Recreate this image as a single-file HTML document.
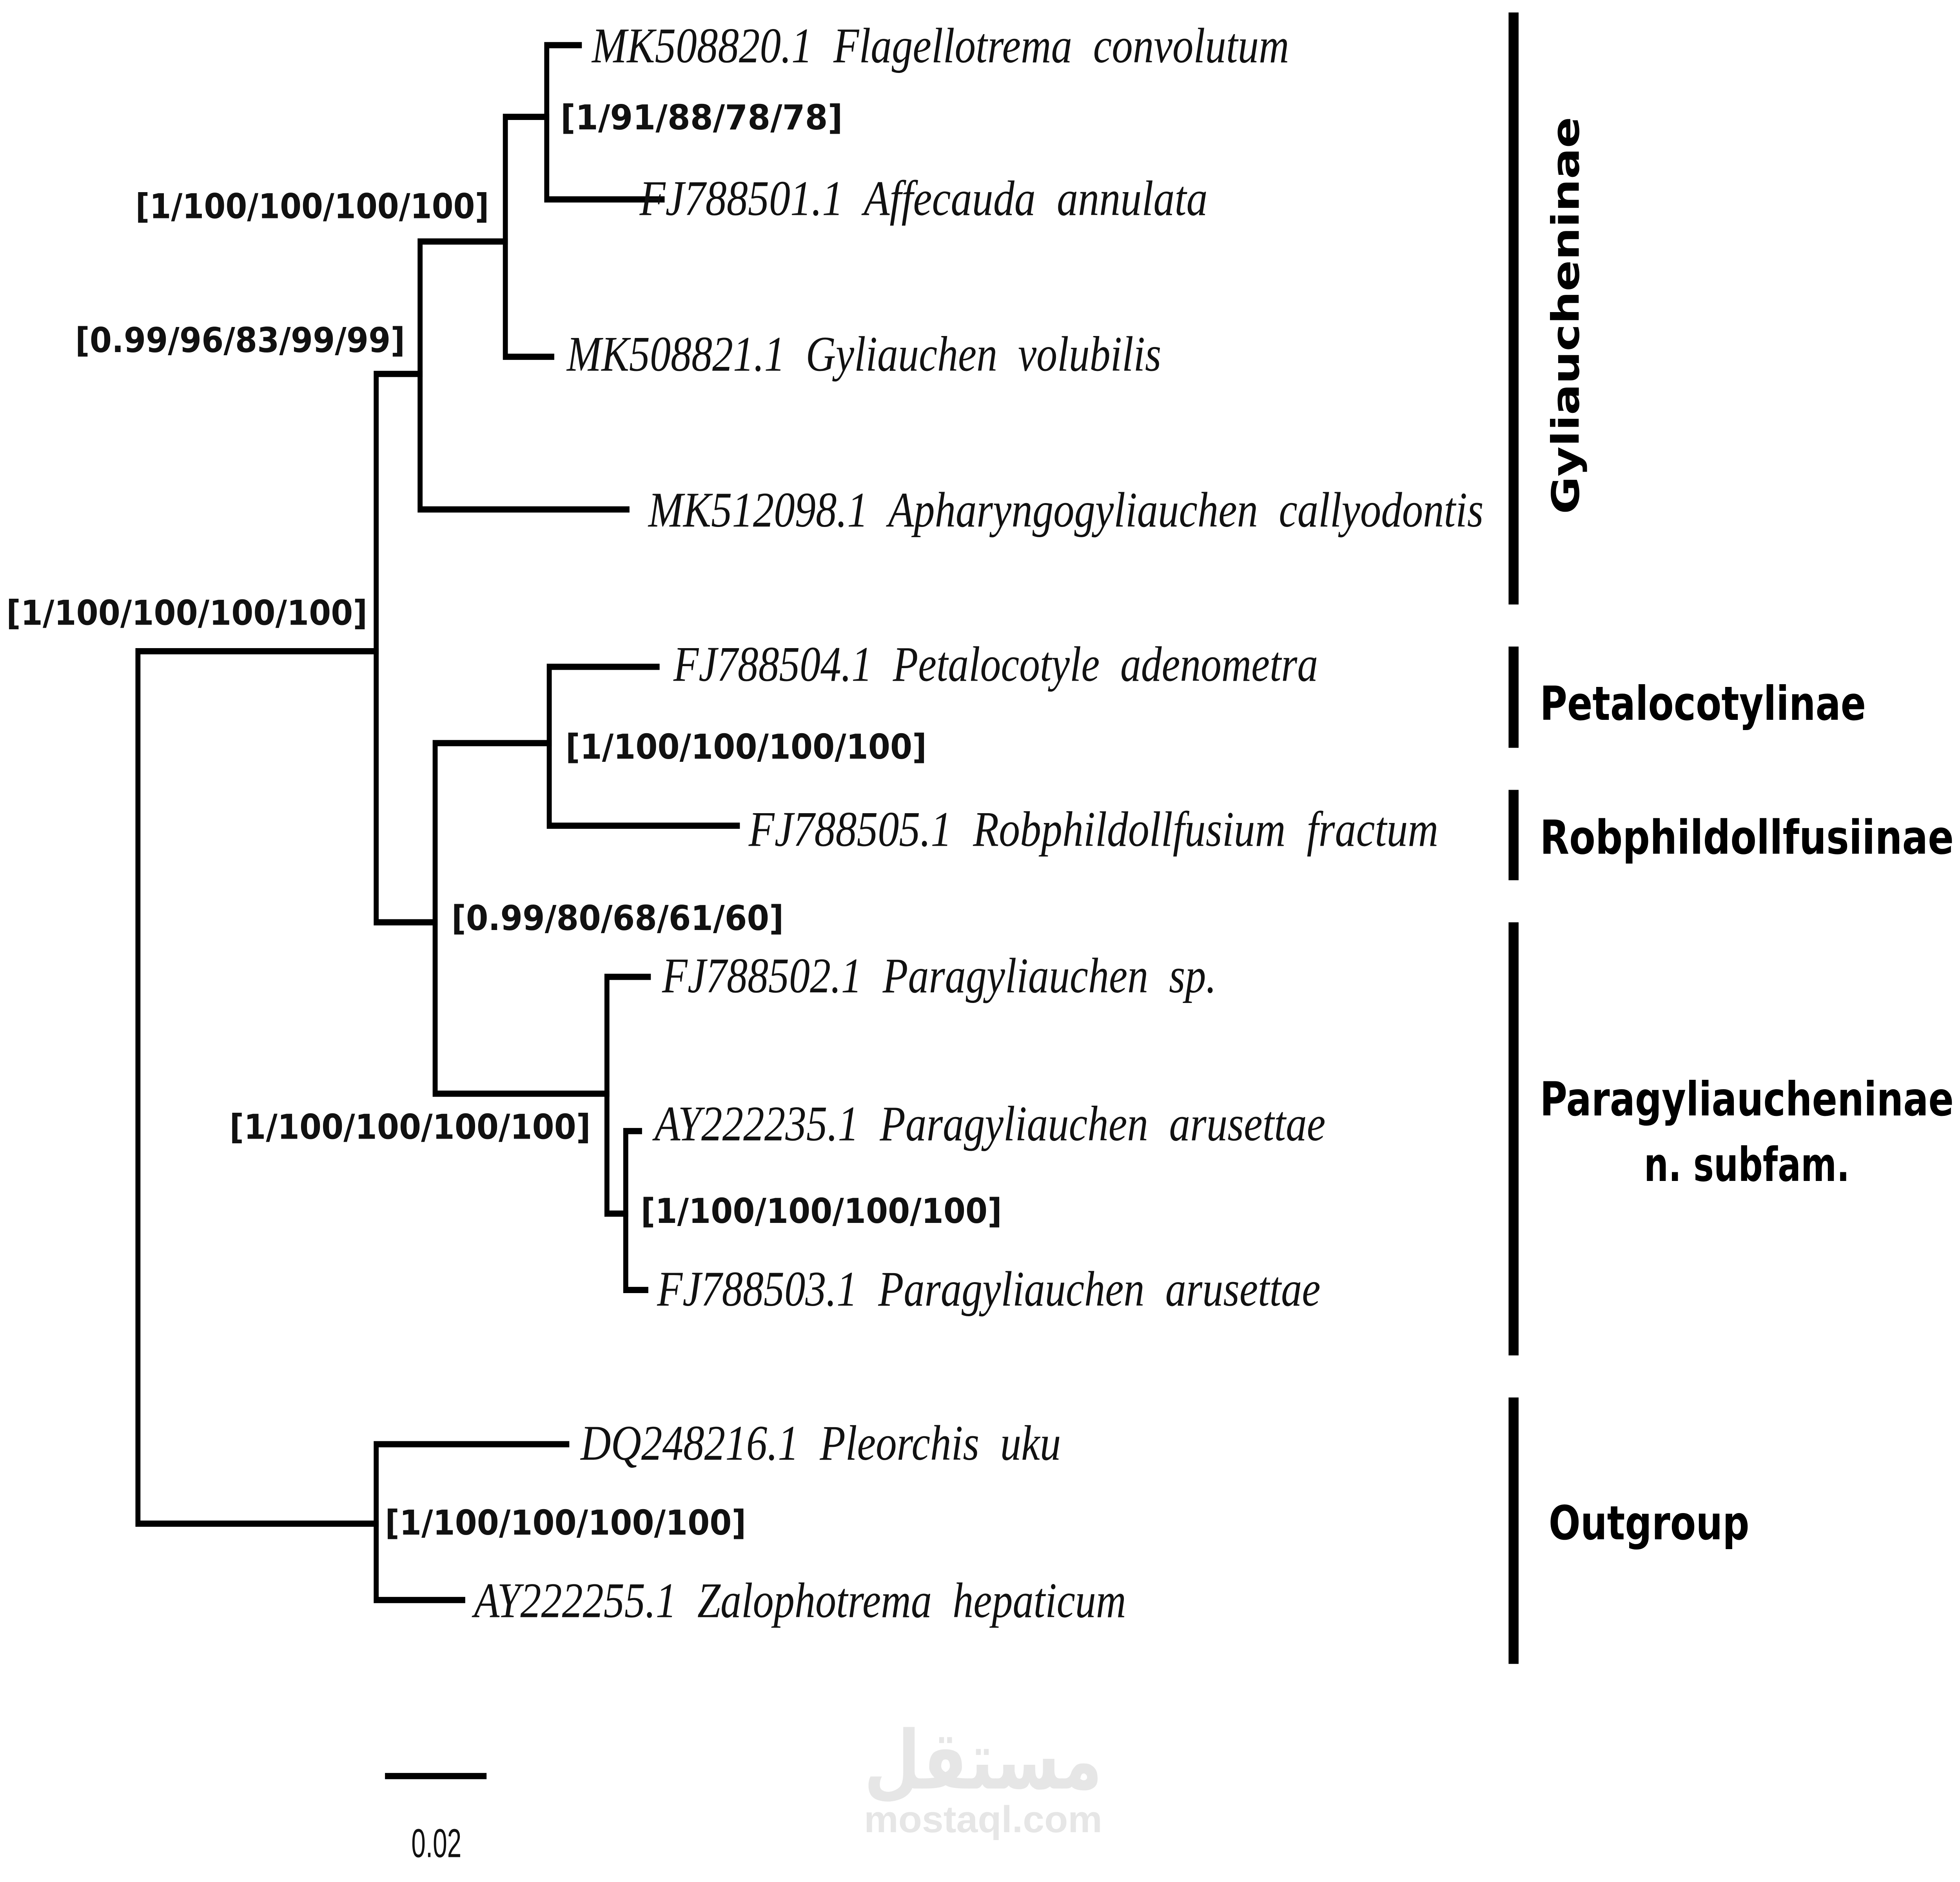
<!DOCTYPE html>
<html><head><meta charset="utf-8"><meta name="viewport" content="width=6224">
<style>
html,body{margin:0;padding:0;background:#fff;overflow:hidden;width:100vw;height:100vh;}
svg{display:block;position:absolute;left:0;top:0;width:100vw;height:100vh;}
.t{font-family:"Liberation Serif",serif;font-style:italic;font-size:32px;fill:#111;white-space:pre;}
.b{font-family:"DejaVu Sans","Liberation Sans",sans-serif;font-weight:bold;font-size:22px;fill:#111;}
.g{font-family:"DejaVu Sans","Liberation Sans",sans-serif;font-weight:bold;font-size:30px;fill:#000;}
</style></head><body>
<svg viewBox="0 0 1563 1208" preserveAspectRatio="none" xmlns="http://www.w3.org/2000/svg">
<g stroke="#000" stroke-width="4" fill="none" stroke-linecap="square">
<path d="M110 418V978M110 418H300M110 978H300"/>
<path d="M300 240V592M300 240H335M300 592H347"/>
<path d="M335 155V327M335 155H403M335 327H500"/>
<path d="M403 75V229M403 75H436M403 229H440"/>
<path d="M436 29V128M436 29H462M436 128H528"/>
<path d="M347 477V702M347 477H438M347 702H484"/>
<path d="M438 428V530M438 428H524M438 530H588"/>
<path d="M484 627V779M484 627H517M484 779H499"/>
<path d="M499 726V828M499 726H510M499 828H515"/>
<path d="M300 927V1027M300 927H452M300 1027H369"/>
<path d="M309 1140H386"/>
</g>
<g fill="#000">
<rect x="1203" y="8" width="8" height="380"/>
<rect x="1203" y="415" width="8" height="65"/>
<rect x="1203" y="507" width="8" height="58"/>
<rect x="1203" y="592" width="8" height="278"/>
<rect x="1203" y="897" width="8" height="171"/>
</g>
<text class="t" x="472" y="40" textLength="556" lengthAdjust="spacingAndGlyphs">MK508820.1  Flagellotrema  convolutum</text>
<text class="t" x="510" y="138" textLength="453" lengthAdjust="spacingAndGlyphs">FJ788501.1  Affecauda  annulata</text>
<text class="t" x="452" y="238" textLength="474" lengthAdjust="spacingAndGlyphs">MK508821.1  Gyliauchen  volubilis</text>
<text class="t" x="517" y="338" textLength="666" lengthAdjust="spacingAndGlyphs">MK512098.1  Apharyngogyliauchen  callyodontis</text>
<text class="t" x="537" y="437" textLength="514" lengthAdjust="spacingAndGlyphs">FJ788504.1  Petalocotyle  adenometra</text>
<text class="t" x="597" y="543" textLength="550" lengthAdjust="spacingAndGlyphs">FJ788505.1  Robphildollfusium  fractum</text>
<text class="t" x="528" y="637" textLength="442" lengthAdjust="spacingAndGlyphs">FJ788502.1  Paragyliauchen  sp.</text>
<text class="t" x="522" y="732" textLength="535" lengthAdjust="spacingAndGlyphs">AY222235.1  Paragyliauchen  arusettae</text>
<text class="t" x="524" y="838" textLength="529" lengthAdjust="spacingAndGlyphs">FJ788503.1  Paragyliauchen  arusettae</text>
<text class="t" x="463" y="937" textLength="383" lengthAdjust="spacingAndGlyphs">DQ248216.1  Pleorchis  uku</text>
<text class="t" x="378" y="1038" textLength="520" lengthAdjust="spacingAndGlyphs">AY222255.1  Zalophotrema  hepaticum</text>

<text class="b" x="447" y="83" textLength="225" lengthAdjust="spacingAndGlyphs">[1/91/88/78/78]</text>
<text class="b" x="108" y="140" textLength="282" lengthAdjust="spacingAndGlyphs">[1/100/100/100/100]</text>
<text class="b" x="60" y="226" textLength="263" lengthAdjust="spacingAndGlyphs">[0.99/96/83/99/99]</text>
<text class="b" x="5" y="401" textLength="288" lengthAdjust="spacingAndGlyphs">[1/100/100/100/100]</text>
<text class="b" x="451" y="487" textLength="288" lengthAdjust="spacingAndGlyphs">[1/100/100/100/100]</text>
<text class="b" x="360" y="597" textLength="265" lengthAdjust="spacingAndGlyphs">[0.99/80/68/61/60]</text>
<text class="b" x="183" y="731" textLength="288" lengthAdjust="spacingAndGlyphs">[1/100/100/100/100]</text>
<text class="b" x="511" y="785" textLength="288" lengthAdjust="spacingAndGlyphs">[1/100/100/100/100]</text>
<text class="b" x="307" y="985" textLength="288" lengthAdjust="spacingAndGlyphs">[1/100/100/100/100]</text>

<text class="g" transform="translate(1259 330) rotate(-90)" textLength="255" lengthAdjust="spacingAndGlyphs">Gyliaucheninae</text>
<text class="g" x="1228" y="462" textLength="260" lengthAdjust="spacingAndGlyphs">Petalocotylinae</text>
<text class="g" x="1228" y="548" textLength="330" lengthAdjust="spacingAndGlyphs">Robphildollfusiinae</text>
<text class="g" x="1228" y="716" textLength="330" lengthAdjust="spacingAndGlyphs">Paragyliaucheninae</text>
<text class="g" x="1311" y="758" textLength="164" lengthAdjust="spacingAndGlyphs">n. subfam.</text>
<text class="g" x="1235" y="988" textLength="160" lengthAdjust="spacingAndGlyphs">Outgroup</text>

<text x="348" y="1192" text-anchor="middle" font-family="Liberation Sans Narrow, Liberation Sans, sans-serif" font-size="26" fill="#111" textLength="40" lengthAdjust="spacingAndGlyphs">0.02</text>
<text x="784" y="1148" text-anchor="middle" font-family="'Liberation Sans','DejaVu Sans',sans-serif" font-weight="bold" font-size="52" fill="#e6e6e6">مستقل</text>
<text x="784" y="1176" text-anchor="middle" font-family="'Liberation Sans',sans-serif" font-weight="bold" font-size="24" fill="#e6e6e6" textLength="190" lengthAdjust="spacingAndGlyphs">mostaql.com</text>
</svg>
</body></html>
